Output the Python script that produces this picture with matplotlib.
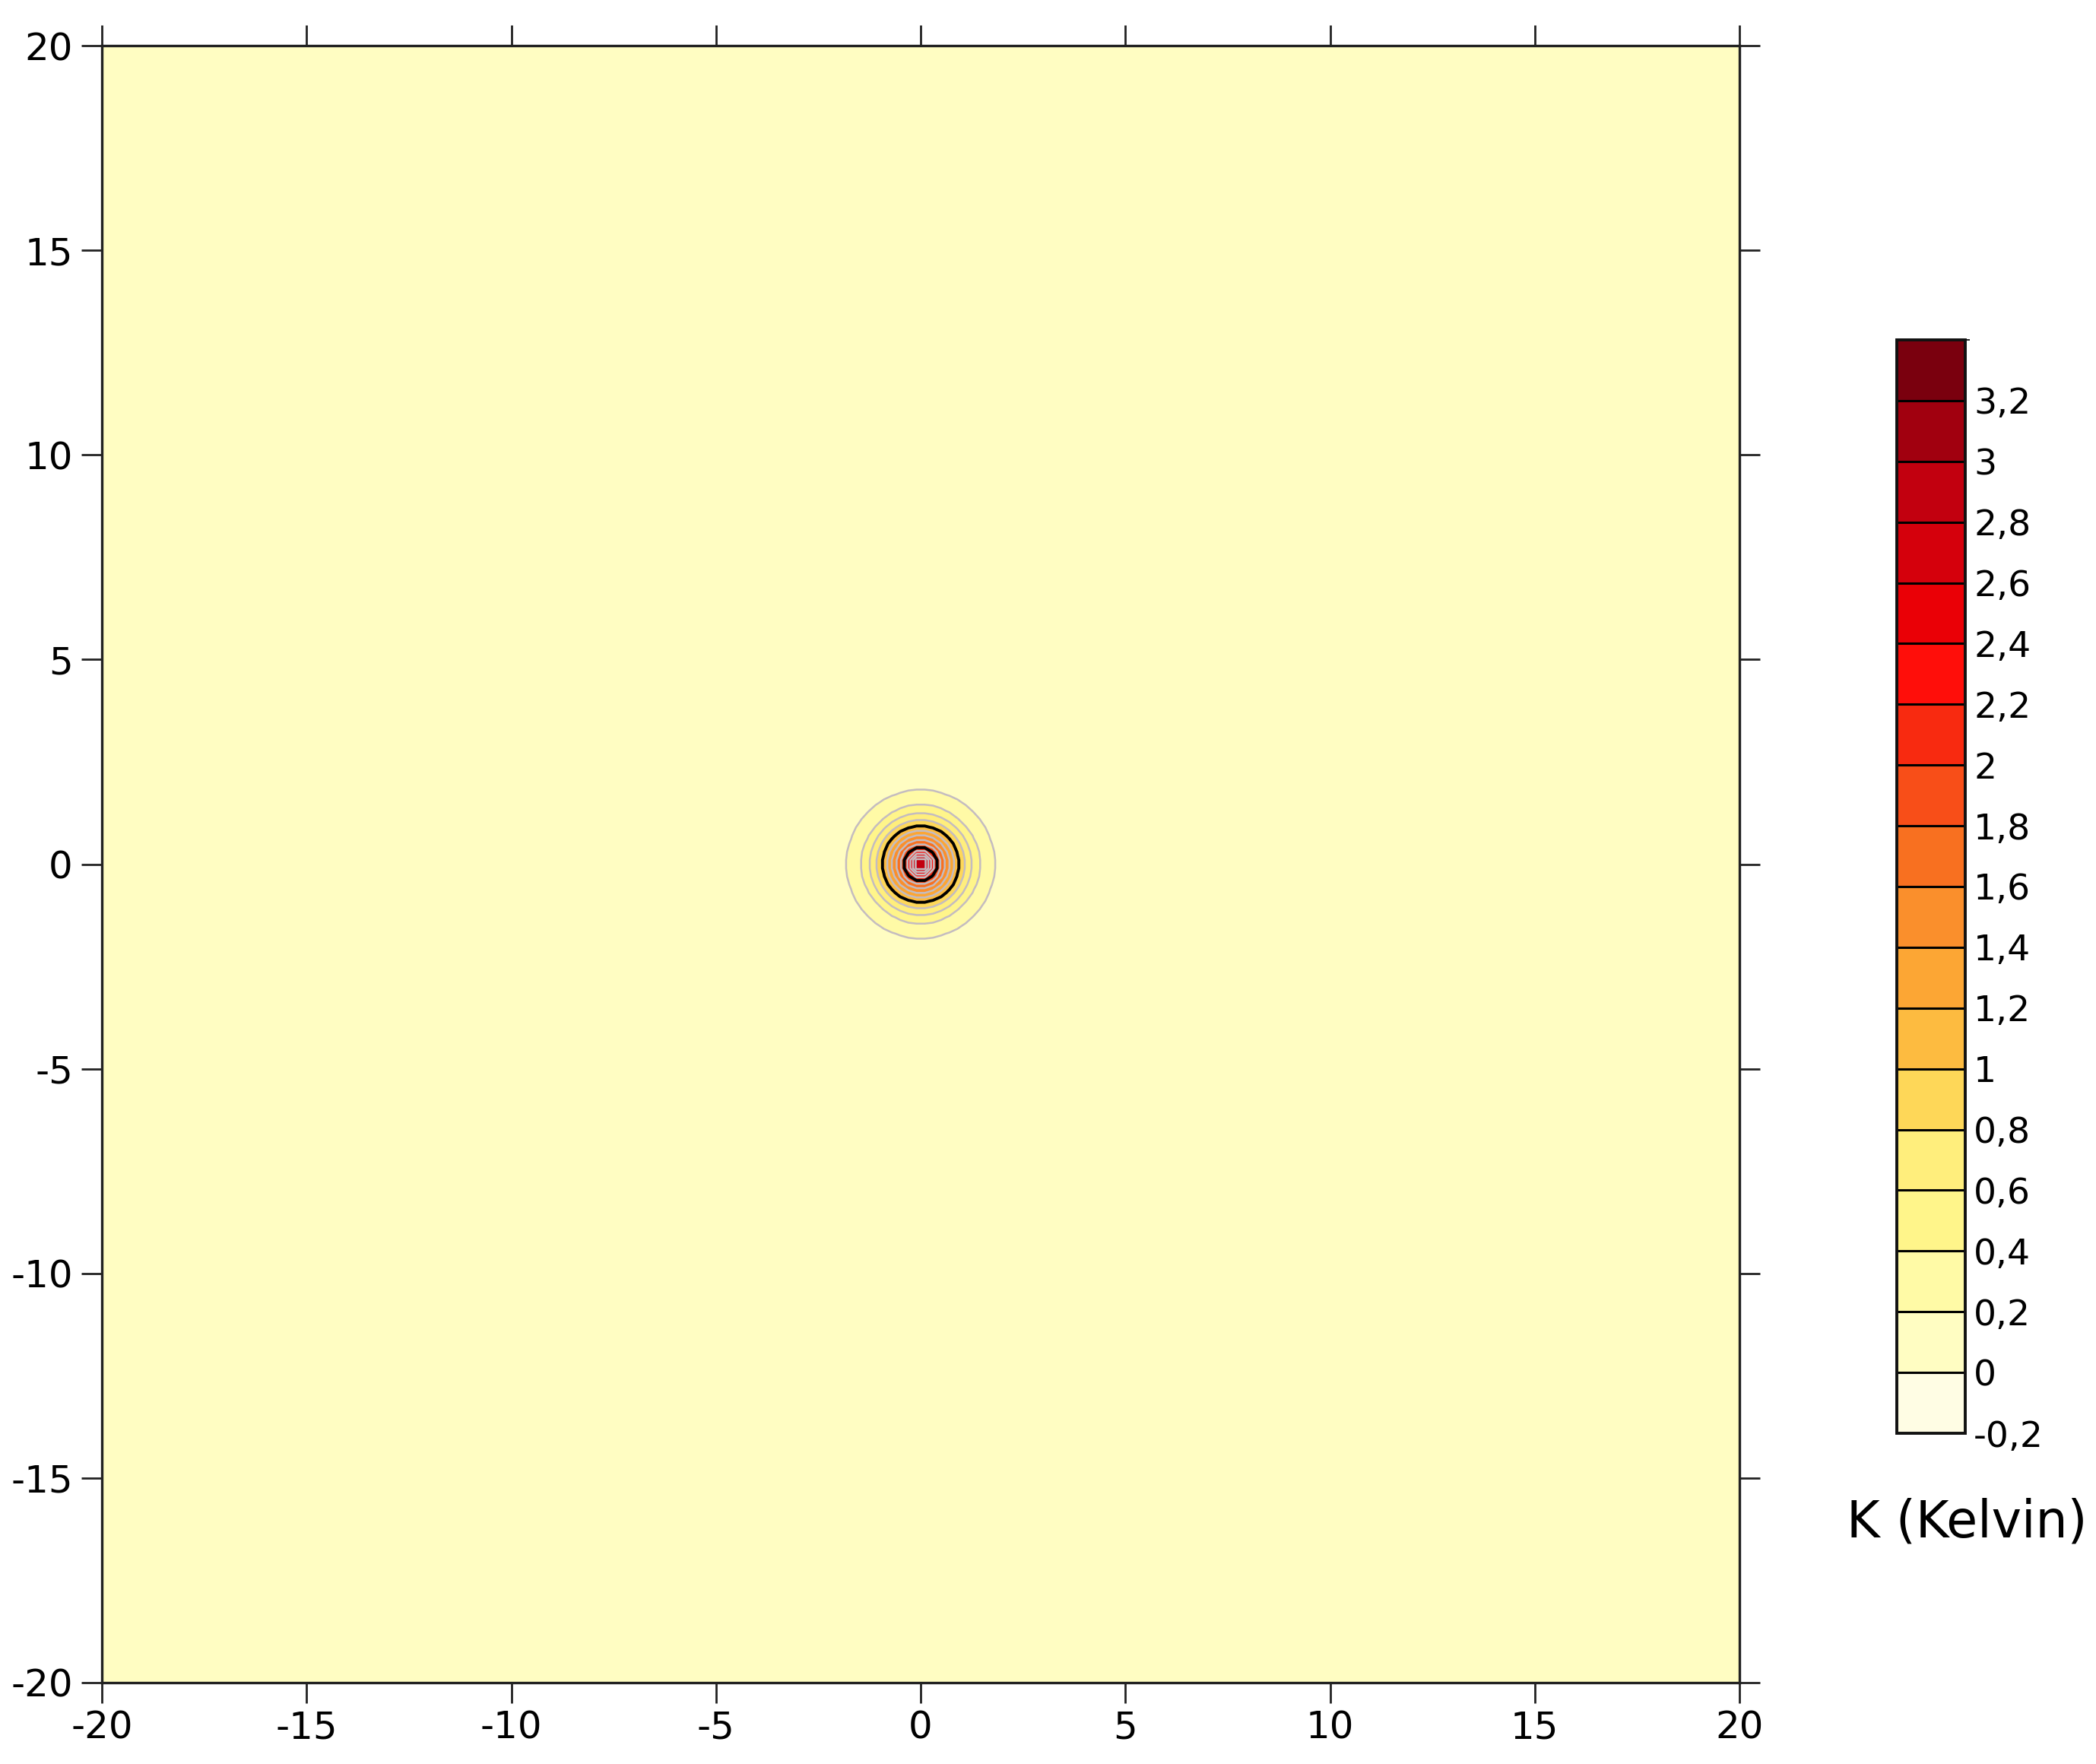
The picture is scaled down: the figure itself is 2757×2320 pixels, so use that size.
import numpy as np
import matplotlib
matplotlib.use("Agg")
import matplotlib.pyplot as plt
from matplotlib.colors import ListedColormap, BoundaryNorm

plt.rcParams['font.family'] = ['DejaVu Sans']
plt.rcParams['axes.unicode_minus'] = False

# contour levels (K) and band colours (bottom -> top)
levels = [-0.2, 0.0, 0.2, 0.4, 0.6, 0.8, 1.0, 1.2, 1.4, 1.6, 1.8,
          2.0, 2.2, 2.4, 2.6, 2.8, 3.0, 3.2, 3.4]
band_colors = ['#FFFDE4', '#FFFDC2', '#FFFAA6', '#FFF58A', '#FFEE7C',
               '#FED758', '#FDBB40', '#FCA634', '#FA8F2C', '#F87020',
               '#F84E18', '#F82A10', '#FF0E0A', '#EA0006', '#D5000C',
               '#C2000F', '#A1000F', '#7A000E']
level_labels = ['-0,2', '0', '0,2', '0,4', '0,6', '0,8', '1', '1,2', '1,4',
                '1,6', '1,8', '2', '2,2', '2,4', '2,6', '2,8', '3', '3,2']
black_levels = [0.0, 1.0, 2.0, 3.0]
gray_levels = [0.2, 0.4, 0.6, 0.8, 1.2, 1.4, 1.6, 1.8, 2.2, 2.4, 2.6, 2.8, 3.2]

# radial temperature profile (distance, K)
profile_r = [0.0, 0.15, 0.22, 0.30, 0.41, 0.48, 0.60, 0.71, 0.82, 0.93,
             1.08, 1.24, 1.43, 1.80, 2.10, 30.0]
profile_T = [2.95, 2.86, 2.62, 2.30, 2.00, 1.80, 1.60, 1.40, 1.20, 1.00,
             0.80, 0.60, 0.40, 0.20, 0.10, 0.10]

ticks = [-20, -15, -10, -5, 0, 5, 10, 15, 20]
tick_labels = ['-20', '-15', '-10', '-5', '0', '5', '10', '15', '20']

W, H = 2757, 2320
fig = plt.figure(figsize=(W / 200, H / 200), dpi=200)
ax = fig.add_axes([134 / W, 1 - 2213 / H, (2288 - 134) / W, (2213 - 60) / H])

g = np.arange(-20.1, 20.1001, 0.2)
X, Y = np.meshgrid(g, g)
R = np.hypot(X, Y)
T = np.interp(R, profile_r, profile_T)

cmap = ListedColormap(band_colors)
norm = BoundaryNorm(levels, cmap.N)
cf = ax.contourf(X, Y, T, levels=levels, cmap=cmap, norm=norm)
ax.contour(X, Y, T, levels=gray_levels, colors='#c4bcc0', linewidths=0.9)
ax.contour(X, Y, T, levels=black_levels, colors='black', linewidths=1.4)

ax.set_xlim(-20, 20)
ax.set_ylim(-20, 20)
ax.set_xticks(ticks)
ax.set_xticklabels(tick_labels)
ax.set_yticks(ticks)
ax.set_yticklabels(tick_labels)
ax.tick_params(direction='out', length=9.7, width=1.0, color='#222222',
               labelsize=18, top=True, right=True, pad=4)
ax.tick_params(axis='x', pad=3)
for s in ax.spines.values():
    s.set_linewidth(1.2)
    s.set_color('#222222')

cax = fig.add_axes([2495 / W, 1 - 1885 / H, 90 / W, (1885 - 447) / H])
cbar = fig.colorbar(cf, cax=cax, ticks=levels[:-1], drawedges=True)
cbar.ax.set_yticklabels(level_labels)
cbar.ax.tick_params(length=0, labelsize=17, pad=4)
cbar.dividers.set_color('black')
cbar.dividers.set_linewidth(1.1)
cbar.outline.set_linewidth(1.4)
cbar.outline.set_edgecolor('#111111')

fig.text(2587 / W, 1 - 2002 / H, 'K (Kelvin)', ha='center', va='center',
         fontsize=24)

fig.savefig('out.png', dpi=200)
